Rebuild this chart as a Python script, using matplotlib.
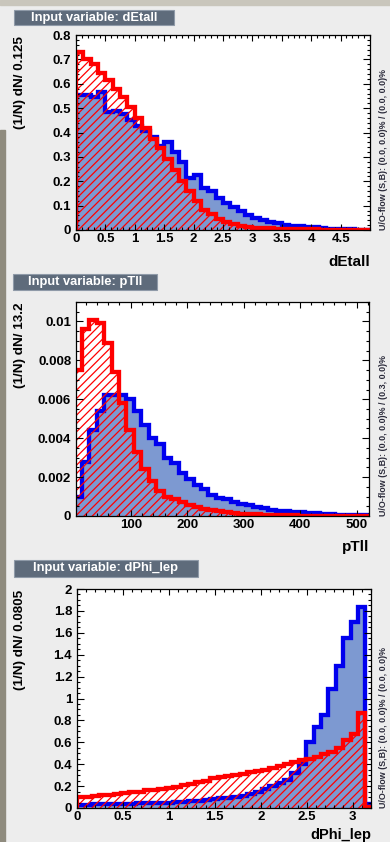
import numpy as np
import matplotlib
matplotlib.use("Agg")
import matplotlib.pyplot as plt
from matplotlib.patches import Rectangle
from matplotlib.ticker import MultipleLocator, FuncFormatter

plt.rcParams['font.family'] = ['Liberation Sans', 'DejaVu Sans']
plt.rcParams['font.weight'] = 'bold'
plt.rcParams['hatch.linewidth'] = 0.9

# ---- data (normalised histograms, 40 bins each) ----
detall_bin, detall_nbins = 0.125, 40
detall_blue = [0.555, 0.555, 0.545, 0.565, 0.485, 0.49, 0.475, 0.45, 0.425, 0.405,
               0.38, 0.345, 0.36, 0.32, 0.28, 0.215, 0.226, 0.172, 0.158, 0.131,
               0.111, 0.093, 0.077, 0.06, 0.05, 0.041, 0.032, 0.027, 0.022, 0.018,
               0.015, 0.013, 0.011, 0.008, 0.006, 0.005, 0.004, 0.003, 0.002, 0.002]
detall_red = [0.73, 0.70, 0.68, 0.645, 0.615, 0.58, 0.545, 0.505, 0.46, 0.42,
              0.375, 0.335, 0.29, 0.245, 0.20, 0.16, 0.118, 0.084, 0.065, 0.045,
              0.032, 0.023, 0.016, 0.012, 0.01, 0.008, 0.007, 0.006, 0.005, 0.004,
              0.004, 0.003, 0.003, 0.002, 0.002, 0.002, 0.001, 0.001, 0.001, 0.001]

ptll_bin, ptll_nbins = 13.2, 40
ptll_blue = [0.001, 0.0028, 0.0044, 0.0054, 0.0062, 0.0062, 0.0062, 0.006, 0.0054, 0.0047,
             0.004, 0.0037, 0.003, 0.0027, 0.0022, 0.0019, 0.0016, 0.0014, 0.0011, 0.0009,
             0.00085, 0.0007, 0.0006, 0.00055, 0.00045, 0.0004, 0.00033, 0.00028, 0.00024, 0.0002,
             0.00018, 0.00016, 0.00013, 0.0001, 0.00008, 0.00007, 0.00005, 0.00004, 0.00004, 0.00003]
ptll_red = [0.0075, 0.0096, 0.0101, 0.0099, 0.0089, 0.0074, 0.0058, 0.0044, 0.0033, 0.0024,
            0.0018, 0.0013, 0.001, 0.00085, 0.0007, 0.00055, 0.00045, 0.00038, 0.0003, 0.00025,
            0.0002, 0.00015, 0.00012, 0.0001, 0.00008, 0.00006, 0.00005, 0.00004, 0.00003, 0.00003,
            0.00002, 0.00002, 0.00002, 0.00001, 0.00001, 0.00001, 0.00001, 0.00001, 0.00001, 0.00001]

dphi_bin, dphi_nbins = 0.0805, 40
dphi_blue = [0.03, 0.03, 0.035, 0.035, 0.035, 0.04, 0.04, 0.04, 0.045, 0.045,
             0.045, 0.05, 0.05, 0.055, 0.055, 0.06, 0.065, 0.07, 0.08, 0.09,
             0.095, 0.10, 0.11, 0.13, 0.15, 0.17, 0.20, 0.23, 0.26, 0.32,
             0.40, 0.60, 0.74, 0.85, 1.09, 1.30, 1.55, 1.70, 1.84, 0.035]
dphi_red = [0.10, 0.105, 0.11, 0.115, 0.12, 0.13, 0.135, 0.145, 0.15, 0.16,
            0.165, 0.175, 0.185, 0.195, 0.21, 0.22, 0.235, 0.25, 0.27, 0.28,
            0.29, 0.30, 0.315, 0.325, 0.335, 0.35, 0.365, 0.38, 0.40, 0.42,
            0.44, 0.45, 0.47, 0.49, 0.51, 0.55, 0.62, 0.68, 0.87, 0.01]

W, H = 390, 842
BG = '#ededed'
FILL_BLUE = '#7d99d1'
LINE_BLUE = '#0000ee'
RED = '#ff0000'


def fbox(left, top, right, bottom):
    return [left / W, 1 - bottom / H, (right - left) / W, (bottom - top) / H]


fig = plt.figure(figsize=(W / 100, H / 100), dpi=100, facecolor=BG)

# window decorations around the canvas
fig.patches.append(Rectangle((0, 1 - 5 / H), 1, 5 / H, transform=fig.transFigure,
                             color='#c9c6bc', zorder=0))
fig.patches.append(Rectangle((0, 0), 5 / W, 1 - 130 / H, transform=fig.transFigure,
                             color='#8f8b7e', zorder=0))

panels = [
    dict(name='dEtall', binw=detall_bin, nb=detall_nbins, blue=detall_blue, red=detall_red,
         frame=(76, 35, 370, 230), title=(14, 10, 174, 25), xlab_y=262,
         xlim=(0, 5), ylim=(0, 0.8), xticks=np.arange(0, 4.51, 0.5), xminor=0.1,
         ymajor=0.1, yminor=0.02, ylabel='(1/N) dN/ 0.125',
         uo='U/O-flow (S,B): (0.0, 0.0)% / (0.0, 0.0)%'),
    dict(name='pTll', binw=ptll_bin, nb=ptll_nbins, blue=ptll_blue, red=ptll_red,
         frame=(76, 302, 369, 516), title=(13, 274, 157, 290), xlab_y=547,
         xlim=(3, 522), ylim=(0, 0.011), xticks=np.arange(100, 501, 100), xminor=20,
         ymajor=0.002, yminor=0.0005, ylabel='(1/N) dN/ 13.2',
         uo='U/O-flow (S,B): (0.0, 0.0)% / (0.3, 0.0)%'),
    dict(name='dPhi_lep', binw=dphi_bin, nb=dphi_nbins, blue=dphi_blue, red=dphi_red,
         frame=(77, 589, 371, 808), title=(14, 560, 198, 577), xlab_y=None,
         xlim=(0, 3.2), ylim=(0, 2), xticks=np.arange(0, 3.01, 0.5), xminor=0.1,
         ymajor=0.2, yminor=0.05, ylabel='(1/N) dN/ 0.0805',
         uo='U/O-flow (S,B): (0.0, 0.0)% / (0.0, 0.0)%'),
]

fmt = FuncFormatter(lambda v, p: '%g' % round(v, 6))

for p in panels:
    l, t, r, b = p['frame']
    ax = fig.add_axes(fbox(l, t, r, b))
    ax.set_facecolor('white')
    edges = np.arange(p['nb'] + 1) * p['binw']

    ax.stairs(p['blue'], edges, fill=True, color=FILL_BLUE, baseline=0, zorder=1)
    ax.stairs(p['blue'], edges, color=LINE_BLUE, linewidth=3.1, baseline=0, zorder=1.2)
    ax.stairs(p['red'], edges, fill=True, facecolor='none', edgecolor=RED,
              hatch='////', linewidth=0, baseline=0, zorder=1.4)
    ax.stairs(p['red'], edges, color=RED, linewidth=3.1, baseline=0, zorder=1.6)

    ax.set_xlim(*p['xlim'])
    ax.set_ylim(*p['ylim'])
    ax.set_xticks(p['xticks'])
    ax.xaxis.set_minor_locator(MultipleLocator(p['xminor']))
    ax.yaxis.set_major_locator(MultipleLocator(p['ymajor']))
    ax.yaxis.set_minor_locator(MultipleLocator(p['yminor']))
    ax.xaxis.set_major_formatter(fmt)
    ax.yaxis.set_major_formatter(fmt)

    ax.tick_params(which='both', direction='in', top=True, right=True,
                   width=0.8, colors='black', labelsize=9.5)
    ax.tick_params(axis='y', which='major', length=5, pad=3.5)
    ax.tick_params(axis='y', which='minor', length=2.5)
    ax.tick_params(axis='x', which='major', length=4, pad=2)
    ax.tick_params(axis='x', which='minor', length=2)
    for lab in ax.get_xticklabels() + ax.get_yticklabels():
        lab.set_fontweight('bold')
    for s in ax.spines.values():
        s.set_linewidth(0.9)

    # title box
    tl, tt, tr, tb = p['title']
    fig.patches.append(Rectangle((tl / W, 1 - tb / H), (tr - tl) / W, (tb - tt) / H,
                                 transform=fig.transFigure, facecolor='#5e6b7b',
                                 edgecolor='#8f9aa8', linewidth=0.8, zorder=1))
    fig.text((tl + tr) / 2 / W, 1 - (tt + tb) / 2 / H, 'Input variable: ' + p['name'],
             ha='center', va='center', color='white', fontsize=9.3, fontweight='bold',
             zorder=2)

    # axis titles
    fig.text(20 / W, 1 - (t + 1) / H, p['ylabel'], rotation=90, ha='center', va='top',
             fontsize=9.7, fontweight='bold')
    if p['xlab_y'] is None:
        fig.text(r / W, 0.3 / H, p['name'], ha='right', va='bottom',
                 fontsize=10.5, fontweight='bold')
    else:
        fig.text(r / W, 1 - p['xlab_y'] / H, p['name'], ha='right', va='center',
                 fontsize=11, fontweight='bold')
    fig.text(383 / W, 1 - b / H, p['uo'], rotation=90, ha='center', va='bottom',
             fontsize=6.4, fontweight='bold', color='#2a2a3a')

fig.savefig('out.png', dpi=100, facecolor=BG)
